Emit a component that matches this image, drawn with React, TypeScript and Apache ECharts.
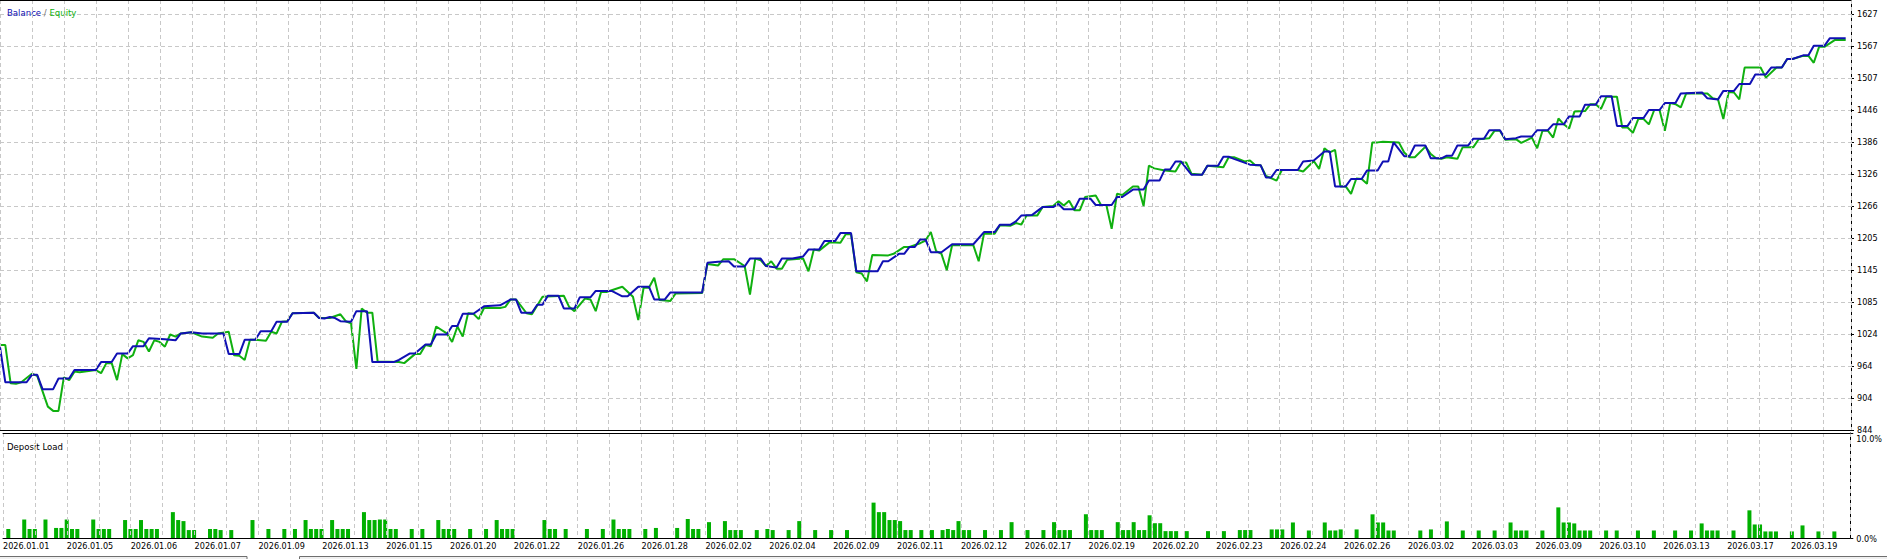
import React, { useEffect, useRef } from "react";
import * as echarts from "echarts";

const dateLabels = [
  "2026.01.01", "2026.01.05", "2026.01.06", "2026.01.07", "2026.01.09", "2026.01.13",
  "2026.01.15", "2026.01.20", "2026.01.22", "2026.01.26", "2026.01.28", "2026.02.02",
  "2026.02.04", "2026.02.09", "2026.02.11", "2026.02.12", "2026.02.17", "2026.02.19",
  "2026.02.20", "2026.02.23", "2026.02.24", "2026.02.26", "2026.03.02", "2026.03.03",
  "2026.03.09", "2026.03.10", "2026.03.13", "2026.03.17", "2026.03.19",
];

const yTickLabels = ["844", "904", "964", "1024", "1085", "1145", "1205", "1266", "1326", "1386", "1446", "1507", "1567", "1627"];
const loadTickLabels = ["0.0%", "10.0%"];

// [deal index, balance]
const balance = [
  [0,1000],[1,934],[5,934],[6,948],[7,948],[8,921],[10,921],[11,941],[13,941],[14,957],[18,957],[19,972],[21,972],[22,988],[24,988],[25,1002],[27,1002],[28,1017],[31,1015],[33,1013],[34,1026],[36,1028],[38,1026],[42,1026],[43,987],[45,987],[46,1014],[48,1014],[49,1030],[51,1030],[52,1048],[54,1048],[55,1064],[59,1065],[60,1055],[61,1054],[62,1057],[63,1055],[64,1049],[66,1048],[67,1068],[69,1068],[70,972],[74,972],[75,976],[77,988],[78,988],[80,1005],[81,1005],[82,1024],[84,1024],[85,1040],[86,1040],[87,1063],[89,1063],[91,1077],[94,1079],
  [96,1090],[97,1090],[98,1065],[100,1065],[101,1080],[102,1080],[103,1097],[105,1097],[106,1073],[108,1073],[109,1094],[111,1094],[112,1106],[115,1106],[117,1096],[118,1096],[120,1114],[122,1114],[123,1090],[125,1090],[126,1103],[132,1103],[133,1159],[135,1161],[137,1162],[138,1152],[140,1152],[141,1167],[143,1167],[144,1153],[146,1150],[147,1167],[149,1167],[151,1171],[152,1184],[154,1184],[155,1200],[157,1200],[158,1215],[160,1215],[161,1143],[165,1143],[166,1162],[167,1162],[169,1176],[170,1176],[171,1189],[172,1189],[173,1203],[174,1203],[175,1179],[177,1179],[179,1194],[183,1194],[185,1217],[187,1217],[188,1231],
  [190,1231],[191,1237],[192,1248],[194,1249],[196,1264],[198,1264],[199,1270],[200,1260],[202,1260],[203,1280],[205,1280],[206,1268],[209,1268],[210,1283],[211,1283],[213,1297],[215,1297],[216,1314],[218,1314],[219,1335],[220,1335],[221,1350],[222,1350],[224,1325],[226,1325],[227,1342],[229,1342],[230,1359],[231,1359],[232,1355],[235,1344],[237,1343],[238,1320],[239,1320],[240,1334],[244,1334],[245,1350],[247,1352],[249,1369],[250,1369],[251,1303],[253,1303],[254,1317],[256,1317],[257,1333],[259,1333],[260,1350],[261,1350],[262,1386],[264,1360],[265,1360],[266,1380],[268,1380],[269,1356],[271,1356],[272,1361],[273,1361],[274,1380],[276,1380],[277,1393],[279,1393],[280,1409],[282,1409],
  [283,1392],[285,1394],[286,1397],[288,1397],[289,1409],[291,1409],[292,1420],[294,1420],[295,1435],[297,1435],[298,1457],[300,1457],[301,1473],[303,1473],[304,1417],[306,1417],[307,1432],[309,1432],[310,1447],[312,1447],[313,1460],[315,1460],[316,1478],[320,1480],[321,1469],[323,1467],[324,1483],[326,1483],[327,1496],[329,1496],[330,1514],[332,1514],[333,1527],[335,1527],[336,1543],[337,1543],[339,1550],[340,1550],[341,1568],[343,1568],[344,1582],[347,1582],
];

// [deal index, equity]
const equity = [
  [0,1004],[1,1004],[2,932],[3,931],[4,934],[6,950],[7,946],[9,888],[10,880],[11,880],[12,943],[13,938],[14,954],[15,953],[18,957],[19,951],[20,970],[21,970],[22,938],[23,987],[24,979],[25,985],[26,1013],[27,1010],[28,992],[29,1013],[30,1010],[31,1001],[32,1024],[33,1020],[34,1026],[36,1028],[38,1020],[40,1018],[41,1026],[43,1029],[44,985],[45,984],[46,976],[47,1014],[48,1014],[50,1012],[51,1029],[52,1026],[53,1048],[54,1049],[55,1064],[59,1065],[60,1055],[62,1055],[64,1062],[65,1049],[66,1045],[67,959],[68,1073],[69,1065],[70,1065],[71,973],[75,972],[76,970],[78,987],[79,987],[80,1004],[81,1002],[82,1039],[84,1026],[85,1010],[86,1039],[87,1020],[88,1064],[89,1063],[90,1053],[91,1074],[94,1074],
  [95,1076],[96,1090],[97,1090],[99,1064],[100,1062],[102,1095],[106,1097],[107,1076],[108,1068],[110,1092],[111,1090],[112,1068],[113,1104],[114,1104],[117,1114],[119,1095],[120,1051],[121,1112],[122,1112],[123,1131],[124,1089],[126,1087],[127,1101],[132,1102],[133,1157],[135,1154],[136,1166],[138,1166],[140,1153],[141,1099],[142,1167],[143,1164],[144,1153],[145,1162],[146,1148],[147,1148],[148,1165],[151,1167],[152,1143],[153,1184],[154,1182],[156,1198],[158,1197],[159,1213],[160,1213],[161,1141],[162,1139],[163,1124],[164,1174],[167,1173],[168,1176],[170,1189],[171,1189],[173,1196],[174,1201],[175,1217],[176,1181],[177,1176],[178,1145],[179,1192],[183,1192],[184,1162],[185,1214],[187,1214],[188,1230],
  [190,1229],[191,1234],[192,1231],[193,1248],[195,1248],[196,1264],[198,1266],[199,1275],[200,1267],[201,1276],[202,1258],[203,1258],[204,1283],[206,1286],[207,1268],[208,1268],[209,1223],[210,1289],[211,1287],[213,1303],[214,1303],[215,1266],[216,1342],[217,1337],[219,1333],[221,1331],[222,1348],[223,1348],[224,1327],[226,1325],[227,1342],[230,1339],[231,1358],[232,1358],[234,1350],[235,1352],[236,1343],[237,1343],[238,1323],[240,1314],[241,1334],[244,1334],[245,1331],[247,1351],[248,1336],[249,1375],[250,1367],[251,1372],[252,1303],[253,1303],[254,1289],[255,1318],[256,1317],[257,1308],[258,1386],[259,1386],[260,1387],[263,1386],[264,1367],[265,1358],[266,1358],[268,1378],[269,1364],[270,1356],[271,1355],[272,1358],[274,1355],[275,1377],[277,1377],[278,1392],[280,1394],[281,1408],[282,1408],
  [283,1391],[285,1392],[286,1385],[288,1395],[289,1375],[290,1408],[291,1408],[292,1395],[293,1431],[294,1420],[295,1412],[296,1444],[298,1445],[299,1458],[300,1458],[301,1449],[302,1472],[304,1472],[305,1414],[306,1414],[307,1404],[308,1430],[309,1430],[310,1420],[311,1447],[312,1447],[313,1408],[314,1460],[315,1458],[316,1452],[317,1478],[321,1478],[322,1469],[323,1467],[324,1430],[325,1481],[326,1480],[327,1467],[328,1527],[331,1527],[332,1508],[334,1527],[335,1527],[336,1543],[337,1543],[339,1549],[340,1549],[341,1536],[342,1566],[343,1566],[345,1579],[347,1579],
];

// [deal index, deposit load %]
const depositLoad = [
  [1,0.9],[4,1.8],[5,0.9],[6,0.9],[8,1.8],[10,1.0],[11,1.0],[12,1.8],[13,0.9],[14,0.9],[17,1.8],[18,0.9],[19,0.9],[20,0.9],[23,1.75],[24,0.9],[25,0.9],[26,1.75],[27,0.9],[28,0.9],[29,0.9],[32,2.5],[33,1.75],[34,1.65],[35,0.8],[36,0.8],[39,0.9],[40,0.9],[41,0.8],[43,0.8],[47,1.75],[50,0.9],[53,0.9],[55,0.9],[57,1.75],[58,0.9],[59,0.9],[60,0.9],[62,1.75],[63,0.9],[64,0.9],[65,0.9],[68,2.5],[69,1.75],[70,1.75],[71,1.8],[72,1.8],[73,0.9],[74,0.9],[77,0.9],[79,0.9],[82,1.75],[83,0.9],[84,0.9],[85,0.9],[88,0.9],[91,0.9],[93,1.75],[94,0.9],[95,0.9],[96,0.9],[102,1.75],[103,0.9],[104,0.9],[106,0.9],[110,0.9],[113,0.9],[115,1.8],[116,0.9],[117,0.9],[118,0.9],
  [121,0.9],[123,1.0],[127,1.0],[129,1.85],[130,0.9],[131,0.9],[133,1.55],[136,1.65],[137,0.8],[138,0.8],[139,0.8],[142,0.8],[144,0.9],[145,0.8],[148,0.8],[150,1.65],[153,0.8],[156,0.8],[159,0.8],[164,3.4],[165,2.5],[166,2.5],[167,1.75],[168,1.75],[169,1.65],[170,0.8],[171,0.8],[173,0.8],[175,0.8],[177,0.8],[178,0.9],[179,0.8],[180,1.65],[181,0.8],[182,0.8],[185,0.8],[188,0.8],[190,1.55],[193,0.8],[196,0.8],[198,1.55],[199,0.8],[200,0.8],[201,0.8],[204,2.3],[205,0.8],[206,0.8],[207,0.8],[210,1.55],[211,0.8],[212,0.8],[213,1.55],[214,0.8],[215,0.8],[216,2.2],[217,1.45],[218,1.45],[219,0.7],[220,0.7],[221,0.7],[223,0.7],[227,0.7],[230,0.7],[233,0.8],[234,0.8],[235,0.8],
  [239,0.86],[240,0.86],[241,0.86],[243,1.52],[246,0.76],[249,1.52],[250,0.76],[251,0.76],[252,0.86],[255,0.86],[258,2.29],[259,1.52],[260,1.52],[261,0.76],[262,0.76],[267,0.76],[269,0.86],[272,1.62],[275,0.76],[278,0.76],[281,0.76],[284,1.52],[285,0.76],[286,0.76],[287,0.76],[290,0.76],[293,2.95],[294,1.52],[295,1.52],[296,1.43],[297,0.76],[298,0.76],[299,0.76],[302,0.76],[304,0.76],[308,0.76],[311,0.76],[315,0.76],[318,0.76],[320,1.43],[321,0.76],[322,0.76],[323,0.76],[326,0.76],[329,2.67],[330,1.33],[331,1.33],[332,0.67],[333,0.67],[334,0.67],[337,0.67],[339,1.24],[342,0.67],[345,0.67],
];

const X_MAX = 348;
const X_STEP = 6.015;
const Y_MIN = 844;
const Y_MAX = 1654.3;
const Y_STEP = 60.285715;

const FONT = "'DejaVu Sans Condensed', 'Liberation Sans', sans-serif";
const BLUE = "#1010b4";
const GREEN = "#10b010";
const GRID = "#c8c8c8";

export default function App() {
  const ref = useRef<HTMLDivElement>(null);
  useEffect(() => {
    const chart = echarts.init(ref.current!, null, { renderer: "svg" });
    const dash = { color: GRID, width: 1, type: [4, 3] as any };
    const xLabel = (v: number) => {
      const k = Math.round(v / X_STEP);
      if (Math.abs(v - k * X_STEP) > 0.01 || k % 2 !== 0) return "";
      return dateLabels[k / 2] || "";
    };
    const yLabel = (v: number) => {
      const k = Math.round((v - Y_MIN) / Y_STEP);
      if (Math.abs(v - (Y_MIN + k * Y_STEP)) > 0.5) return "";
      return yTickLabels[k] || "";
    };
    const borderAxis = (gridIndex: number) => ({
      type: "value", gridIndex, position: "top", min: 0, max: X_MAX, z: 10,
      axisLine: { show: true, onZero: false, lineStyle: { color: "#000", width: 1 } },
      axisTick: { show: false }, axisLabel: { show: false }, splitLine: { show: false },
    });
    const option: any = {
      animation: false,
      backgroundColor: "#ffffff",
      textStyle: { fontFamily: FONT },
      title: [
        {
          text: "{b|Balance} {s|/} {e|Equity}",
          left: 2,
          top: 2,
          textStyle: {
            fontSize: 9.5,
            fontWeight: "normal",
            fontFamily: FONT,
            rich: {
              b: { color: BLUE, fontSize: 9.5, fontFamily: FONT },
              s: { color: "#707070", fontSize: 9.5, fontFamily: FONT },
              e: { color: GREEN, fontSize: 9.5, fontFamily: FONT },
            },
          },
        },
        {
          text: "Deposit Load",
          left: 2,
          top: 436,
          textStyle: { fontSize: 9.5, fontWeight: "normal", color: "#000", fontFamily: FONT },
        },
      ],
      grid: [
        { left: 0, top: 0, width: 1851, height: 430, containLabel: false },
        { left: 0, top: 433, width: 1851, height: 105.5, containLabel: false },
      ],
      xAxis: [
        {
          type: "value", gridIndex: 0, min: 0, max: X_MAX, interval: X_STEP, z: 10,
          axisLine: { show: true, onZero: false, lineStyle: { color: "#000", width: 1 } },
          axisTick: { show: false }, axisLabel: { show: false },
          splitLine: { show: true, lineStyle: dash },
        },
        borderAxis(0),
        {
          type: "value", gridIndex: 1, min: 0, max: X_MAX, interval: X_STEP, z: 10,
          axisLine: { show: true, onZero: false, lineStyle: { color: "#000", width: 1 } },
          axisTick: { show: false },
          splitLine: { show: true, lineStyle: dash },
          axisLabel: {
            formatter: xLabel, align: "left", margin: 3, fontSize: 9, color: "#000",
            fontFamily: FONT, showMaxLabel: false, hideOverlap: false,
          },
        },
        borderAxis(1),
      ],
      yAxis: [
        {
          type: "value", gridIndex: 0, position: "right", min: Y_MIN, max: Y_MAX, interval: Y_STEP,
          z: 2,
          axisLine: { show: true, onZero: false, lineStyle: { color: "#000", width: 1 } },
          axisTick: { show: true, length: 3, lineStyle: { color: "#000" } },
          splitLine: { show: true, lineStyle: dash },
          axisLabel: { formatter: yLabel, margin: 6, fontSize: 9, color: "#000", fontFamily: FONT, showMaxLabel: false },
        },
        {
          type: "value", gridIndex: 1, position: "right", min: 0, max: 10, interval: 10,
          z: 3,
          axisLine: { show: true, onZero: false, lineStyle: { color: "#000", width: 1 } },
          axisTick: { show: true, length: 3, lineStyle: { color: "#000" } },
          splitLine: { show: false },
          axisLabel: {
            formatter: (v: number) => (v >= 10 ? loadTickLabels[1] : loadTickLabels[0]),
            margin: 6, fontSize: 9, color: "#000", fontFamily: FONT,
            verticalAlignMaxLabel: "top", backgroundColor: "#ffffff", padding: [1, 2, 0, 0],
          },
        },
      ],
      series: [
        {
          name: "Equity", type: "line", xAxisIndex: 0, yAxisIndex: 0, data: equity,
          symbol: "none", showSymbol: false, z: 3,
          lineStyle: { color: GREEN, width: 2 }, itemStyle: { color: GREEN },
        },
        {
          name: "Balance", type: "line", xAxisIndex: 0, yAxisIndex: 0, data: balance,
          symbol: "none", showSymbol: false, z: 4,
          lineStyle: { color: BLUE, width: 2 }, itemStyle: { color: BLUE },
        },
        {
          name: "Deposit Load", type: "bar", xAxisIndex: 2, yAxisIndex: 1, data: depositLoad,
          barWidth: 4, itemStyle: { color: "#00b000" }, z: 2,
        },
      ],
      graphic: [
        { type: "rect", shape: { x: -1, y: 556.5, width: 248, height: 10 }, style: { fill: "#f0f0f0", stroke: "#6e6e6e", lineWidth: 1 } },
        { type: "rect", shape: { x: 299.5, y: 556.5, width: 1600, height: 10 }, style: { fill: "#f0f0f0", stroke: "#6e6e6e", lineWidth: 1 } },
      ],
    };
    chart.setOption(option);
    return () => chart.dispose();
  }, []);
  return <div ref={ref} style={{ position: "fixed", left: 0, top: 0, width: 1887, height: 559 }} />;
}
